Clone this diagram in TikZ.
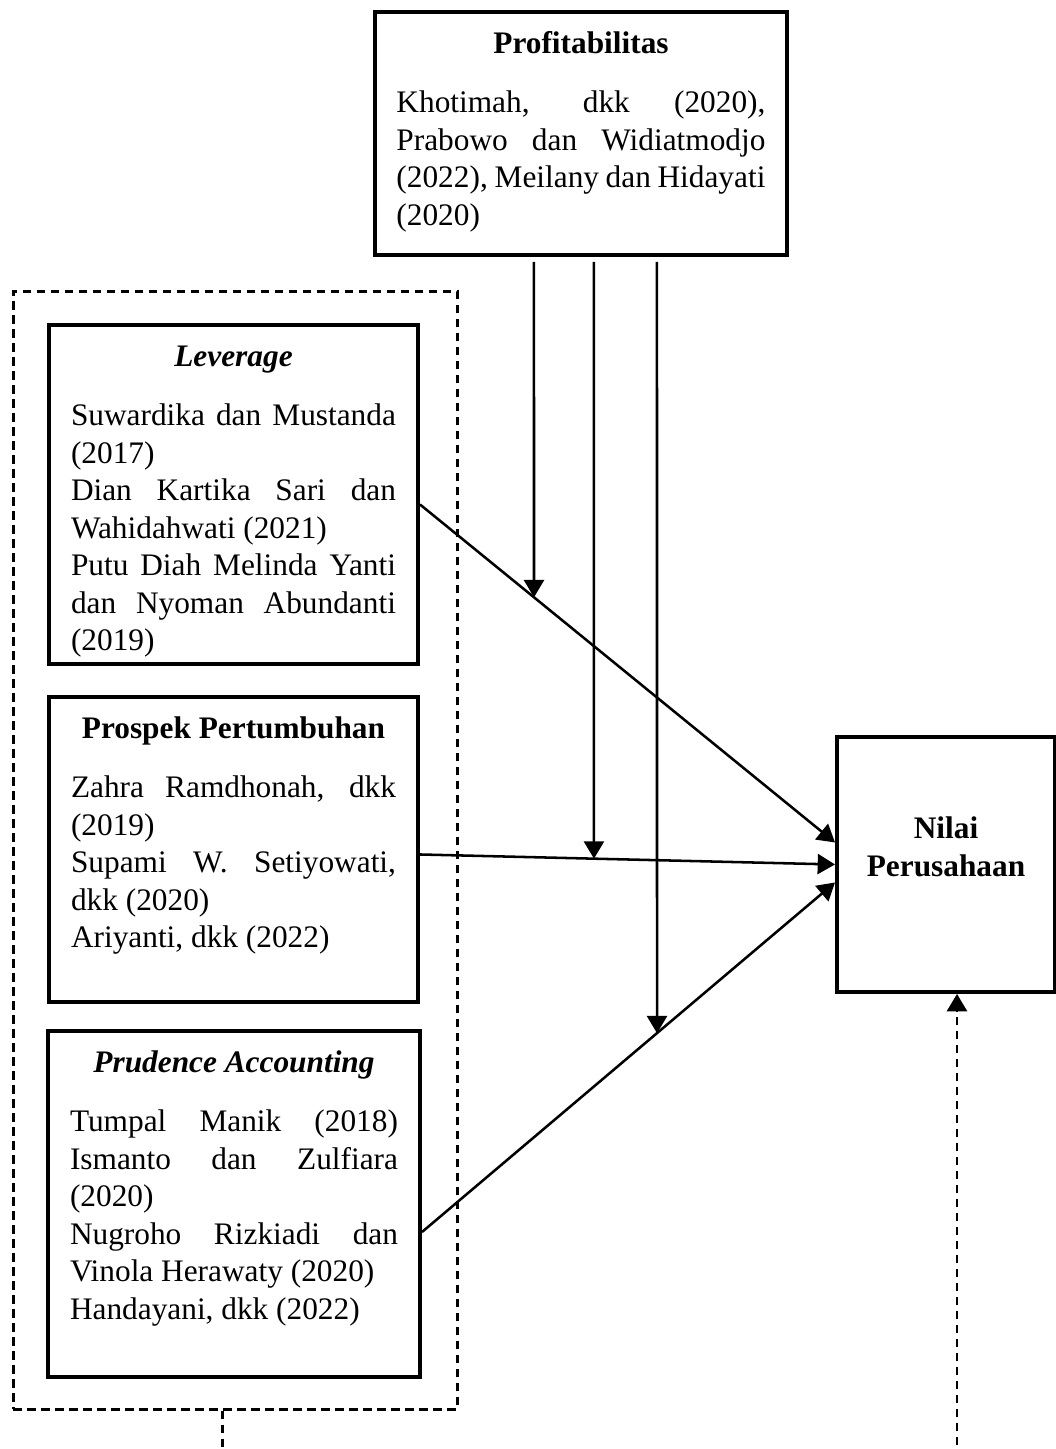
\documentclass[tikz,border=0pt]{standalone}
\usepackage{fontspec}
\setmainfont{Liberation Serif}
\usetikzlibrary{arrows.meta,calc}

\newcommand{\bodyfont}{\fontsize{23.5}{28.125}\selectfont}
\newcommand{\vartitle}[1]{{\centering\bfseries\strut #1\par}\vspace{16pt}}
\newcommand{\varbody}[3]{\parbox[t][#1][t]{#2}{\tolerance=10000\hyphenpenalty=10000\parskip=0pt #3}}

\begin{document}
\begin{tikzpicture}[x=0.75pt, y=-0.75pt, >={Triangle[width=15pt,length=13pt]},
    varbox/.style={draw, line width=3pt, anchor=north west, inner ysep=11.8pt, font=\bodyfont},
    arrowline/.style={->, line width=1.9pt},
    dashline/.style={line width=1.9pt, dash pattern=on 6.5pt off 4pt}]
    \useasboundingbox (0,0) rectangle (1056,1449);

    % Dashed frame round the independent variables
    \node[draw, dashline, anchor=north west, minimum width=333pt, minimum height=838.5pt, inner sep=0pt] (grp) at (12,290) {};

    % Moderating variable
    \node[varbox, inner xsep=16.1pt] (prof) at (373,10) {\varbody{158.6pt}{276.75pt}{\vartitle{Profitabilitas}
        Khotimah, dkk (2020),\linebreak Prabowo dan Widiatmodjo\linebreak (2022), Meilany dan Hidayati\linebreak (2020)}};

    % Independent variables
    \node[varbox, inner xsep=16.5pt] (lev) at (47,323) {\varbody{230.6pt}{243.75pt}{\vartitle{\itshape Leverage}
        Suwardika dan Mustanda\linebreak (2017)\par
        Dian Kartika Sari dan\linebreak Wahidahwati (2021)\par
        Putu Diah Melinda Yanti\linebreak dan Nyoman Abundanti\linebreak (2019)}};
    \node[varbox, inner xsep=16.5pt] (pros) at (47,695) {\varbody{205.1pt}{243.75pt}{\vartitle{Prospek Pertumbuhan}
        Zahra Ramdhonah, dkk\linebreak (2019)\par
        Supami W. Setiyowati,\linebreak dkk (2020)\par
        Ariyanti, dkk (2022)}};
    \node[varbox, inner xsep=16.5pt] (prud) at (46,1029) {\varbody{235.9pt}{246pt}{\vartitle{\itshape Prudence Accounting}
        Tumpal Manik (2018)\linebreak Ismanto dan Zulfiara\linebreak (2020)\par
        Nugroho Rizkiadi dan\linebreak Vinola Herawaty (2020)\par
        Handayani, dkk (2022)}};

    % Dependent variable
    \node[varbox, inner xsep=10pt] (nilai) at (835,735) {\parbox[t][167.6pt][t]{143.5pt}{\centering\vspace*{45pt}\bfseries\strut Nilai\\Perusahaan}};

    % Arrow ends
    \coordinate (levout) at ($(lev.east)+(0,10)$);
    \coordinate (levin) at ($(nilai.west)+(0,-22)$);
    \coordinate (prosout) at ($(pros.east)+(0,5)$);
    \coordinate (prosin) at ($(nilai.west)+(0,0)$);
    \coordinate (prudout) at ($(prud.east)+(0,28)$);
    \coordinate (prudin) at ($(nilai.west)+(0,18)$);

    \draw[arrowline] (levout) -- (levin);
    \draw[arrowline] (prosout) -- (prosin);
    \draw[arrowline] (prudout) -- (prudin);

    % Moderation arrows
    \coordinate (mod1) at ($(prof.south)+(-47,5)$);
    \coordinate (mod2) at ($(prof.south)+(13,5)$);
    \coordinate (mod3) at ($(prof.south)+(76,5)$);
    \coordinate (mod1b) at ($(mod1)+(0,100)$);
    \coordinate (mod2b) at ($(mod2)+(0,100)$);
    \coordinate (mod3b) at ($(mod3)+(0,100)$);
    \coordinate (hit1) at (intersection of mod1--mod1b and levout--levin);
    \coordinate (hit2) at (intersection of mod2--mod2b and prosout--prosin);
    \coordinate (hit3) at (intersection of mod3--mod3b and prudout--prudin);
    \draw[arrowline] (mod1) -- (hit1);
    \draw[arrowline] (mod2) -- (hit2);
    \draw[arrowline] (mod3) -- (hit3);

    % Simultaneous effect
    \coordinate (simul) at ($(grp.south)+(-13,42)$);
    \draw[dashline, ->] ($(grp.south)+(-13,0)$) -- (simul) -| ($(nilai.south)+(11,0)$);
\end{tikzpicture}
\end{document}
